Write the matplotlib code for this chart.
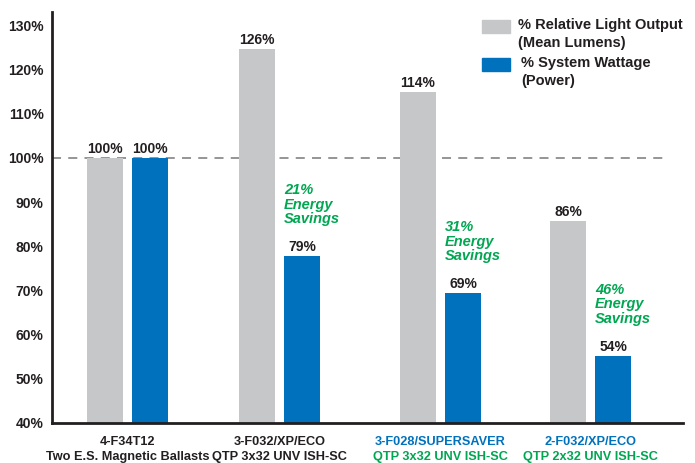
import matplotlib
matplotlib.use("Agg")
from matplotlib import pyplot as plt
from matplotlib import transforms
from matplotlib import font_manager
from matplotlib.patches import Rectangle
import numpy as np

# data
groups_line1 = ["4-F34T12", "3-F032/XP/ECO", "3-F028/SUPERSAVER", "2-F032/XP/ECO"]
groups_line2 = ["Two E.S. Magnetic Ballasts", "QTP 3x32 UNV ISH-SC",
                "QTP 3x32 UNV ISH-SC", "QTP 2x32 UNV ISH-SC"]
light_output = [100, 124.6, 114.8, 85.8]          # bar heights as drawn
light_labels = ["100%", "126%", "114%", "86%"]
system_wattage = [100, 77.8, 69.4, 55.2]
wattage_labels = ["100%", "79%", "69%", "54%"]
savings = [None, "21%", "31%", "46%"]
yticks = [40, 50, 60, 70, 80, 90, 100, 110, 120, 130]
legend_labels = [["% Relative Light Output", "(Mean Lumens)"], ["% System Wattage", "(Power)"]]

# colours
gray = "#C6C7C9"
blue = "#0071BC"
green = "#00A651"
dark = "#231F20"

names = {f.name for f in font_manager.fontManager.ttflist}
family = ["Liberation Sans Narrow"] if "Liberation Sans Narrow" in names else ["Liberation Sans"]
plt.rcParams["font.family"] = family + ["DejaVu Sans"]
plt.rcParams["font.weight"] = "bold"

W, H = 695, 463
fig = plt.figure(figsize=(W / 100, H / 100), dpi=100)
ax = fig.add_axes([52 / W, 40 / H, 631 / W, 411 / H])

centers = np.array([75.5, 227.5, 388.5, 538.5])
bar_w = 36
off = 22.5

b1 = ax.bar(centers - off, np.array(light_output) - 40, bottom=40, width=bar_w, color=gray, zorder=2)
b2 = ax.bar(centers + off, np.array(system_wattage) - 40, bottom=40, width=bar_w, color=blue, zorder=2)

ax.axhline(100, xmin=0, xmax=613 / 631, color="#8C8C8C", lw=1.3, ls=(0, (5, 4)), zorder=1)

for i in range(len(centers)):
    ax.annotate(light_labels[i], (centers[i] - off, light_output[i]), xytext=(0, 1.5),
                textcoords="offset points", ha="center", va="bottom", fontsize=10,
                fontweight="bold", color=dark)
    ax.annotate(wattage_labels[i], (centers[i] + off, system_wattage[i]), xytext=(0, 1.5),
                textcoords="offset points", ha="center", va="bottom", fontsize=10,
                fontweight="bold", color=dark)
    if savings[i]:
        ax.annotate(savings[i] + "\nEnergy\nSavings", (centers[i] + off - bar_w / 2, system_wattage[i]),
                    xytext=(0, 21.5), textcoords="offset points", ha="left", va="bottom",
                    fontsize=10.5, fontweight="bold", fontstyle="italic", color=green,
                    linespacing=1.05)

# two-line category labels
trans = transforms.blended_transform_factory(ax.transData, fig.transFigure)
for i in range(len(centers)):
    c1 = dark if i < 2 else blue
    c2 = dark if i < 2 else green
    ax.text(centers[i], 1 - 442 / H, groups_line1[i], transform=trans, ha="center",
            va="center", fontsize=9.2, fontweight="bold", color=c1)
    ax.text(centers[i], 1 - 457 / H, groups_line2[i], transform=trans, ha="center",
            va="center", fontsize=9.2, fontweight="bold", color=c2)

ax.set_xlim(0, 631)
ax.set_ylim(40, 133)
ax.set_xticks([])
ax.set_yticks(yticks)
ax.set_yticklabels([f"{v}%" for v in yticks], fontsize=10, fontweight="bold", color=dark)
ax.tick_params(axis="y", length=0, pad=6)
for s in ["top", "right"]:
    ax.spines[s].set_visible(False)
for s in ["left", "bottom"]:
    ax.spines[s].set_color(dark)
    ax.spines[s].set_linewidth(2)

# legend drawn by hand (swatch next to first line of a two-line label)
legend_rows = [(20, 518, gray), (58, 521, blue)]
for (top, tx, col), lines in zip(legend_rows, legend_labels):
    fig.patches.append(Rectangle((482 / W, 1 - (top + 13) / H), 28 / W, 13 / H,
                                 transform=fig.transFigure, color=col))
    fig.text(tx / W, 1 - (top + 5) / H, lines[0], ha="left", va="center",
             fontsize=10.5, fontweight="bold", color=dark)
    fig.text(tx / W, 1 - (top + 23) / H, lines[1], ha="left", va="center",
             fontsize=10.5, fontweight="bold", color=dark)

fig.savefig("out.png", dpi=100)
